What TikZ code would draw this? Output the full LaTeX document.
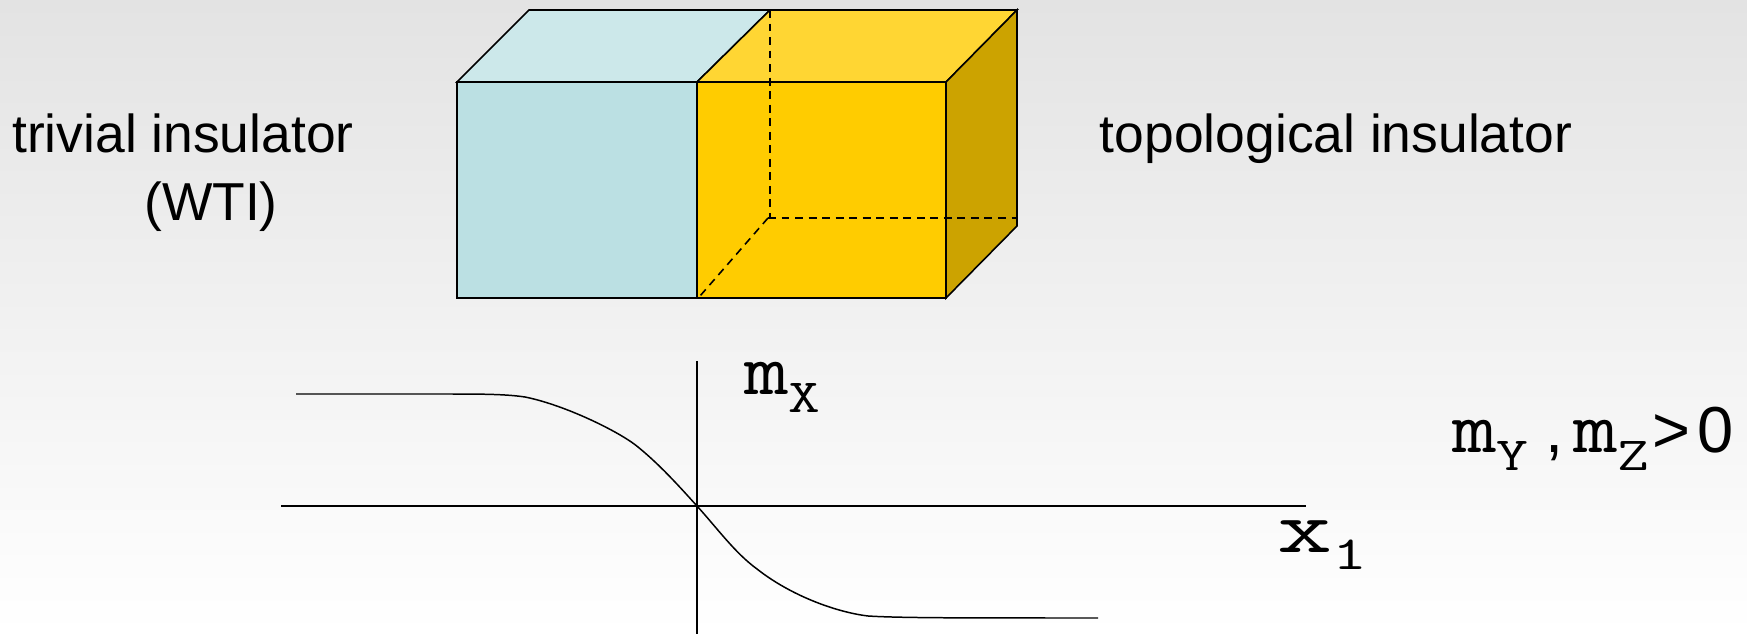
\documentclass[tikz,border=0pt]{standalone}
\usepackage{fontspec}
\setmainfont{Liberation Sans}
\usepackage{graphicx}
\usepackage{xcolor}
\usetikzlibrary{calc}
\definecolor{aquafront}{RGB}{187, 224, 227}
\definecolor{aquatop}{RGB}{204, 232, 234}
\definecolor{goldfront}{RGB}{255, 204, 0}
\definecolor{goldtop}{RGB}{255, 214, 51}
\definecolor{goldside}{RGB}{204, 163, 0}
\newcommand{\subvar}[1]{\raisebox{-10pt}{\fontsize{27}{30}\selectfont\scalebox{1.3}[1]{#1}}}
\newcommand{\massvar}[1]{{\ttfamily\fontsize{42}{48}\selectfont\scalebox{1.17}[1]{m}\subvar{#1}}}

\begin{document}
\begin{tikzpicture}[
  x=0.02cm, y=-0.02cm,
  edge/.style={draw=black, line width=0.9pt, line join=miter},
  hidden/.style={black, line width=0.9pt, dash pattern=on 4.5pt off 3.2pt},
  axis/.style={black, line width=0.85pt},
  label/.style={font=\fontsize{30.4}{36}\selectfont, anchor=base, inner sep=0pt},
  mass/.style={anchor=base west, inner sep=0pt},
  relsign/.style={font=\fontsize{37}{44}\selectfont, anchor=base west, inner sep=0pt}
]
  \useasboundingbox (0, 0) rectangle (1747, 634);
  \shade[top color=black!11, bottom color=black!0] (0, 0) rectangle (1747, 634);

  % corners of the block
  \coordinate (fl) at (457, 298);
  \coordinate (tl) at (457, 82);
  \coordinate (fm) at (697, 298);
  \coordinate (tm) at (697, 82);
  \coordinate (fr) at (946, 298);
  \coordinate (tr) at (946, 82);
  \coordinate (bl) at (529, 10);
  \coordinate (bm) at (770, 10);
  \coordinate (br) at (1017, 10);
  \coordinate (dr) at (1017, 226);
  \coordinate (hm) at (768, 218);
  \coordinate (hr) at (1017, 218);
  \coordinate (hf) at (700, 296);

  \draw[edge, fill=aquafront] (tl) rectangle (fm);
  \draw[edge, fill=aquatop] (tl) -- (bl) -- (bm) -- (tm) -- cycle;
  \draw[edge, fill=goldfront] (tm) rectangle (fr);
  \draw[edge, fill=goldtop] (tm) -- (bm) -- (br) -- (tr) -- cycle;
  \draw[edge, fill=goldside] (tr) -- (br) -- (dr) -- (fr) -- cycle;

  \draw[hidden] (bm) -- (770, 218);
  \draw[hidden] (hm) -- (hr);
  \draw[hidden] (hm) -- (hf);

  % axes
  \coordinate (xa) at (281, 506);
  \coordinate (xb) at (1306, 506);
  \coordinate (ya) at (697, 361);
  \coordinate (yb) at (697, 634);
  \coordinate (o) at (697, 506);
  \draw[axis] (xa) -- (xb);
  \draw[axis] (ya) -- (yb);

  \coordinate (ca) at (296, 394);
  \coordinate (cb) at (525, 397);
  \coordinate (cc) at (638, 447);
  \coordinate (cd) at (757, 569);
  \coordinate (ce) at (868, 616);
  \coordinate (cf) at (1098, 618);
  \draw[axis] (ca) -- (440, 394) .. controls (480, 394) and (505, 394) .. (cb)
    .. controls (565, 405) and (620, 432) .. (cc)
    .. controls (660, 465) and (678, 485) .. (o)
    .. controls (717, 528) and (735, 553) .. (cd)
    .. controls (790, 595) and (835, 612) .. (ce)
    .. controls (900, 618) and (960, 618) .. (cf);

  \node[label] (triv) at (183, 153) {trivial insulator};
  \node[label] (wti) at (211, 221) {(WTI)};
  \node[label] (topo) at (1336, 153) {topological insulator};

  \node[mass] (mx) at (744, 395) {\massvar{X}};
  \node[mass] (my) at (1452, 453) {\massvar{Y}};
  \node[relsign] (comma) at (1545, 453) {,};
  \node[mass] (mz) at (1573, 453) {\massvar{Z}};
  \node[relsign] (gt) at (1652, 453) {>};
  \node[relsign] (zero) at (1697, 453) {0};
  \node[mass] (xone) at (1277, 552) {\ttfamily\fontsize{42}{48}\selectfont\scalebox{1.45}[1]{x}\subvar{\scalebox{1.1}[1]{1}}};
\end{tikzpicture}
\end{document}
